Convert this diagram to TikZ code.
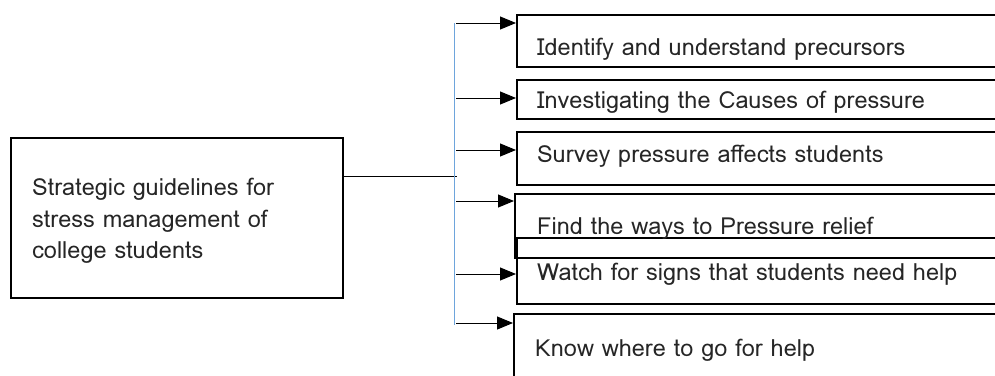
\documentclass[tikz,border=0pt]{standalone}
\usepackage{fontspec}
\setmainfont{Loma}[Script=Latin]
\usetikzlibrary{arrows.meta}
\definecolor{vblue}{RGB}{110,165,220}
\tikzset{
  boxs/.style={draw, line width=2pt, rectangle, anchor=north west, inner sep=0pt},
  lbl/.style={anchor=base west, inner sep=0pt, font=\fontsize{23.5}{28}\selectfont, text=black!85},
  arr/.style={line width=1pt, -{Triangle[length=16pt,width=13pt]}},
  vline/.style={line width=1pt, vblue}
}
\begin{document}
\begin{tikzpicture}[x=1pt,y=-1pt]
\useasboundingbox (0,0) rectangle (995,375);
\clip (0,0) rectangle (995,375);
% main box
\node[boxs, minimum width=332pt, minimum height=160pt] (main) at (10,137) {};
\node[lbl] (m1) at (32,195) {Strategic guidelines for};
\node[lbl] (m2) at (32,227) {stress management of};
\node[lbl] (m3) at (32,258) {college students};
% right boxes
\node[boxs, minimum width=520pt, minimum height=52pt] (b1) at (516,14) {};
\node[boxs, minimum width=520pt, minimum height=39pt] (b2) at (516,79) {};
\node[boxs, minimum width=520pt, minimum height=53pt] (b3) at (516,131) {};
\node[boxs, minimum width=520pt, minimum height=64pt] (b4) at (514,193) {};
\node[boxs, minimum width=520pt, minimum height=66pt] (b5) at (516,237) {};
\node[boxs, minimum width=520pt, minimum height=90pt] (b6) at (513,313) {};
\node[lbl] (t1) at (537,55) {Identify and understand precursors};
\node[lbl] (t2) at (537,108) {Investigating the Causes of pressure};
\node[lbl] (t3) at (537,162) {Survey pressure affects students};
\node[lbl] (t4) at (537,234) {Find the ways to Pressure relief};
\node[lbl] (t5) at (537,280) {Watch for signs that students need help};
\node[lbl] (t6) at (535,356) {Know where to go for help};
% connectors
\coordinate (j) at (457,176);
\draw[line width=1pt] (main.east |- j) -- (j);
\coordinate (vt) at (454,23);
\coordinate (vb) at (454,325);
\draw[vline] (vt) -- (vb);
\coordinate (s1) at (456,23);
\coordinate (s2) at (456,98);
\coordinate (s3) at (456,150);
\coordinate (s4) at (456,201);
\coordinate (s5) at (456,274);
\coordinate (s6) at (456,323);
\draw[arr] (s1) -- (s1 -| b1.west);
\draw[arr] (s2) -- (s2 -| b2.west);
\draw[arr] (s3) -- (s3 -| b3.west);
\draw[arr] (s4) -- (s4 -| b4.west);
\draw[arr] (s5) -- (s5 -| b5.west);
\draw[arr] (s6) -- (s6 -| b6.west);
\end{tikzpicture}
\end{document}
